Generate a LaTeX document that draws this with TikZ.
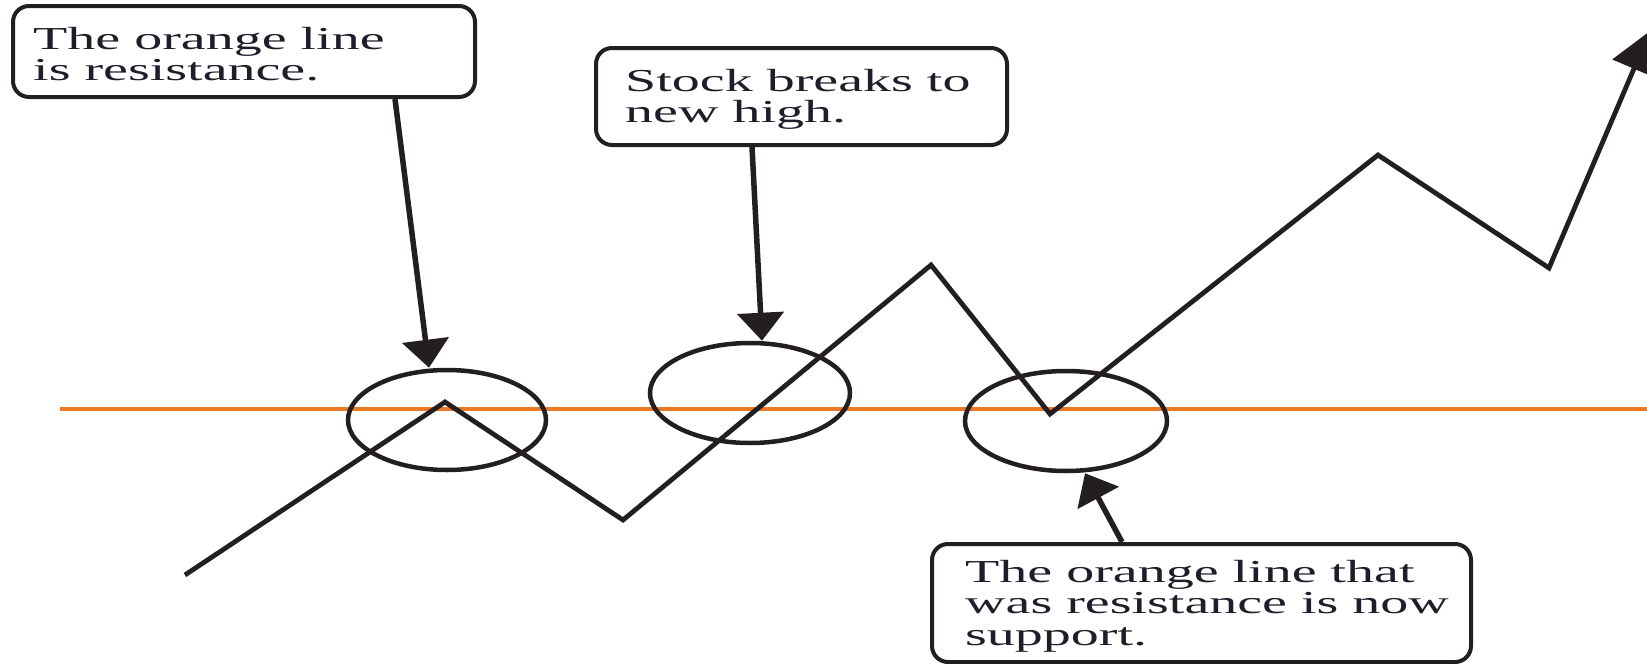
\documentclass[tikz,border=0pt]{standalone}
\usepackage{fontspec}
\setmainfont{Liberation Serif}[FakeStretch=1.75]
\usetikzlibrary{arrows.meta,shapes.geometric,calc}
\definecolor{ink}{RGB}{35,31,32}
\definecolor{resline}{RGB}{236,122,36}
\definecolor{txt}{RGB}{30,30,42}
\begin{document}
\begin{tikzpicture}[x=1pt,y=-1pt,
  box/.style={draw=ink,line width=4pt,rounded corners=16pt,rectangle,inner sep=0pt},
  lbl/.style={anchor=north west,align=left,inner sep=0pt,text=txt,font=\fontsize{32}{31.5}\selectfont},
  ring/.style={draw=ink,line width=4.5pt,ellipse,inner sep=0pt},
  callout/.style={draw=ink,line width=5.5pt,-{Triangle[length=28pt,width=46pt]}},
  price/.style={draw=ink,line width=4.8pt,-{Triangle[length=41pt,width=46pt]}},
  level/.style={draw=resline,line width=4pt}
]
\useasboundingbox (0,0) rectangle (1647,664);

% resistance / support level
\coordinate (ol) at (60,409);
\coordinate (or) at (1647,409);
\draw[level] (ol) -- (or);

% price path
\coordinate (p0) at (185,575);
\coordinate (p1) at (445,402);
\coordinate (p2) at (623,520);
\coordinate (p3) at (931,265);
\coordinate (p4) at (1050,414);
\coordinate (p5) at (1378,155);
\coordinate (p6) at (1549,268);
\coordinate (p7) at (1650,31);
\draw[price] (p0) -- (p1) -- (p2) -- (p3) -- (p4) -- (p5) -- (p6) -- (p7);

% circles
\node[ring,minimum width=198pt,minimum height=100pt] (e1) at (447,420) {};
\node[ring,minimum width=200pt,minimum height=100pt] (e2) at (750,393) {};
\node[ring,minimum width=202pt,minimum height=100pt] (e3) at (1066,421) {};

% boxes
\node[box,minimum width=462pt,minimum height=91pt] (b1) at (244,51.5) {};
\node[box,minimum width=411pt,minimum height=97pt] (b2) at (801.5,96.5) {};
\node[box,minimum width=539pt,minimum height=118pt] (b3) at (1201.5,603) {};

\node[lbl] (t1) at (33,27) {The orange line\\is resistance.};
\node[lbl] (t2) at (625,69) {Stock breaks to\\new high.};
\node[lbl] (t3) at (965,560) {The orange line that\\was resistance is now\\support.};

% callout arrows
\draw[callout] ([xshift=151pt]b1.south) -- ([xshift=-18pt]e1.north);
\draw[callout] ([xshift=-49.5pt]b2.south) -- ([xshift=12pt]e2.north);
\draw[callout] ([xshift=-79.5pt]b3.north) -- ([xshift=19pt]e3.south);
\end{tikzpicture}
\end{document}
